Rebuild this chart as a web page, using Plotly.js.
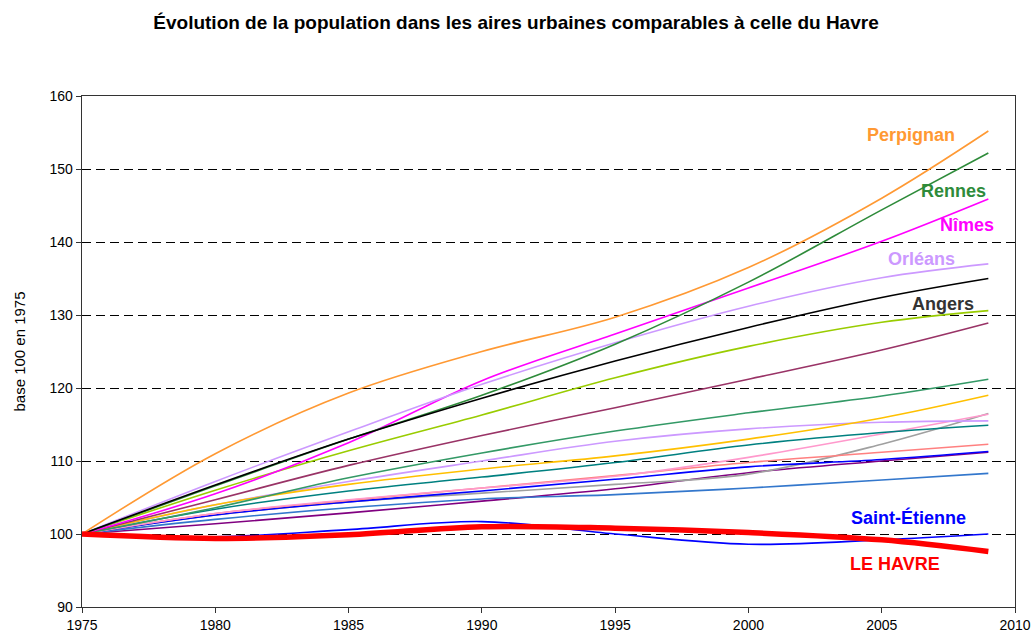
<!DOCTYPE html>
<html>
<head>
<meta charset="utf-8">
<script src="https://cdn.plot.ly/plotly-3.0.1.min.js"></script>
<style>html,body{margin:0;padding:0;background:#fff;}#chart{width:1032px;height:635px;}</style>
</head>
<body>
<div id="chart"></div>
<script>
const years = [1975, 1980, 1985, 1990, 1995, 2000, 2005, 2009];

// Base 100 in 1975
const perpignan   = [100, 111.0, 119.3, 125.0, 129.7, 136.5, 146.0, 155.2];
const rennes      = [100, 106.6, 113.0, 119.0, 126.0, 134.5, 144.4, 152.2];
const nimes       = [100, 105.5, 112.5, 121.0, 127.4, 133.7, 140.1, 145.9];
const orleans     = [100, 107.2, 114.0, 120.5, 126.2, 131.2, 135.1, 137.0];
const angers      = [100, 106.7, 113.0, 118.6, 123.7, 128.3, 132.4, 135.0];
const aire6       = [100, 106.0, 111.4, 116.3, 121.4, 125.7, 129.0, 130.6];
const aire7       = [100, 104.7, 109.4, 113.5, 117.3, 121.2, 125.2, 128.9];
const aire8       = [100, 103.6, 107.7, 111.1, 114.1, 116.6, 118.9, 121.2];
const aire9       = [100, 104.0, 106.8, 108.9, 110.7, 113.0, 115.9, 119.0];
const aire10      = [100, 104.0, 107.2, 110.0, 112.7, 114.4, 115.3, 115.5];
const aire11      = [100, 103.4, 105.9, 107.8, 109.8, 112.2, 113.9, 114.9];
const aire12      = [100, 102.8, 104.7, 106.3, 107.9, 110.5, 113.7, 116.4];
const aire13      = [100, 102.8, 104.6, 106.3, 108.0, 109.8, 111.2, 112.3];
const aire14      = [100, 102.6, 104.4, 105.9, 107.5, 109.2, 110.2, 111.3];
const aire15      = [100, 102.6, 104.4, 105.6, 106.8, 108.2, 112.3, 116.5];
const aire16      = [100, 102.0, 103.6, 104.8, 105.4, 106.3, 107.4, 108.3];
const aire17      = [100, 101.4, 102.9, 104.5, 106.2, 108.4, 110.0, 111.2];
const saintEtienne= [100, 99.6, 100.6, 101.7, 100.0, 98.6, 99.2, 100.0];
const leHavre     = [100, 99.4, 99.9, 101.0, 100.8, 100.2, 99.2, 97.6];

const yTicks = [90, 100, 110, 120, 130, 140, 150, 160];
const xTicks = [1975, 1980, 1985, 1990, 1995, 2000, 2005, 2010];

const series = [
  {name: 'Aire 17', y: aire17, color: '#800080'},
  {name: 'Aire 16', y: aire16, color: '#3377CC'},
  {name: 'Aire 15', y: aire15, color: '#A0A0A0'},
  {name: 'Aire 14', y: aire14, color: '#0000FF'},
  {name: 'Aire 13', y: aire13, color: '#FF8080'},
  {name: 'Aire 12', y: aire12, color: '#FF99CC'},
  {name: 'Aire 11', y: aire11, color: '#008080'},
  {name: 'Aire 10', y: aire10, color: '#CC99FF'},
  {name: 'Aire 9',  y: aire9,  color: '#FFC000'},
  {name: 'Aire 8',  y: aire8,  color: '#339966'},
  {name: 'Aire 7',  y: aire7,  color: '#993366'},
  {name: 'Aire 6',  y: aire6,  color: '#99CC00'},
  {name: 'Nîmes',   y: nimes,  color: '#FF00FF'},
  {name: 'Orléans', y: orleans,color: '#CC99FF'},
  {name: 'Rennes',  y: rennes, color: '#2E8B3A'},
  {name: 'Angers',  y: angers, color: '#000000'},
  {name: 'Perpignan', y: perpignan, color: '#FF9933'},
  {name: 'Saint-Étienne', y: saintEtienne, color: '#0000FF'},
];

const traces = series.map(s => ({
  x: years, y: s.y, name: s.name, type: 'scatter', mode: 'lines',
  line: {color: s.color, width: 1.6, shape: 'spline', smoothing: 1},
  hoverinfo: 'skip', showlegend: false
}));
traces.push({
  x: years, y: leHavre, name: 'LE HAVRE', type: 'scatter', mode: 'lines',
  line: {color: '#FF0000', width: 5.5, shape: 'spline', smoothing: 1},
  hoverinfo: 'skip', showlegend: false
});

const lab = (text, x, y, color) => ({
  text: '<b>' + text + '</b>', x: x, y: y, xref: 'x', yref: 'y',
  showarrow: false, font: {family: 'Liberation Sans, Arial, sans-serif', size: 18, color: color}
});

const layout = {
  width: 1032, height: 635,
  margin: {l: 82, r: 17, t: 96, b: 28},
  paper_bgcolor: '#ffffff', plot_bgcolor: '#ffffff',
  font: {family: 'Liberation Sans, Arial, sans-serif', size: 14, color: '#000'},
  title: {
    text: '<b>Évolution de la population dans les aires urbaines comparables à celle du Havre</b>',
    x: 0.5, xanchor: 'center', y: 0.965, yanchor: 'middle',
    font: {family: 'Liberation Sans, Arial, sans-serif', size: 19, color: '#000'}
  },
  xaxis: {
    range: [1975, 2010], tickvals: xTicks, ticktext: xTicks.map(String),
    showgrid: false, zeroline: false, showline: true, linecolor: '#333', linewidth: 1.3,
    mirror: true, ticks: 'outside', ticklen: 5, tickcolor: '#333',
    tickfont: {size: 14}
  },
  yaxis: {
    range: [90, 160], tickvals: yTicks, ticktext: yTicks.map(String),
    showgrid: true, gridcolor: '#000', griddash: '9px,5px', gridwidth: 1,
    zeroline: false, showline: true, linecolor: '#333', linewidth: 1.3,
    mirror: true, ticks: 'outside', ticklen: 5, tickcolor: '#333',
    tickfont: {size: 14},
    title: {text: 'base 100 en 1975', font: {size: 15}, standoff: 20}
  },
  annotations: [
    lab('Perpignan', 2006.1, 154.7, '#FF9933'),
    lab('Rennes', 2007.7, 147.0, '#2E8B3A'),
    lab('Nîmes', 2008.2, 142.3, '#FF00FF'),
    lab('Orléans', 2006.5, 137.7, '#CC99FF'),
    lab('Angers', 2007.3, 131.5, '#333333'),
    lab('Saint-Étienne', 2006.0, 102.2, '#0000FF'),
    lab('LE HAVRE', 2005.5, 95.9, '#FF0000')
  ],
  hovermode: false
};

Plotly.newPlot('chart', traces, layout, {staticPlot: true, displayModeBar: false});
</script>
</body>
</html>
